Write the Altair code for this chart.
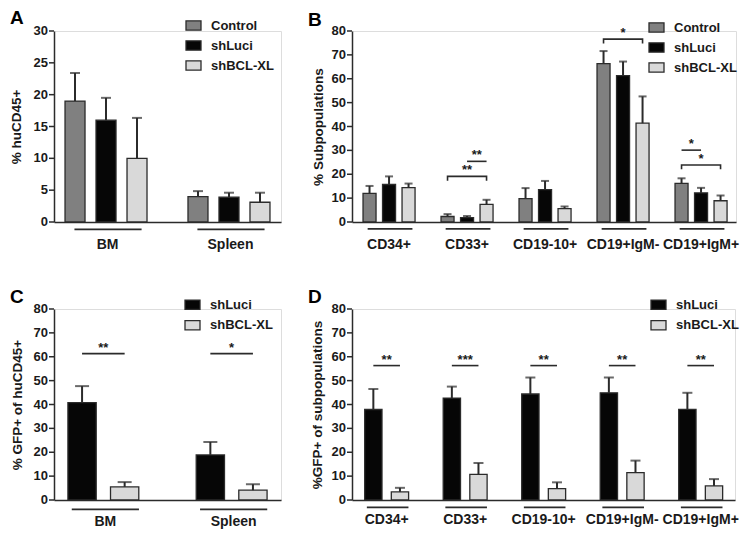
import altair as alt
import pandas as pd

FONT = "Liberation Sans"
DARK = "#2b2b2b"
TXT = "#1a1a1a"
SWATCH = "M-1,-0.62H1V0.62H-1Z"

series3 = ["Control", "shLuci", "shBCL-XL"]
series2 = ["shLuci", "shBCL-XL"]
fill3 = ["#808080", "#060606", "#d9d9d9"]
fill2 = ["#060606", "#d9d9d9"]

# y tick labels
a_yticks = [0, 5, 10, 15, 20, 25, 30]
bcd_yticks = [0, 10, 20, 30, 40, 50, 60, 70, 80]

# ---------------- Panel A : % huCD45+ ----------------
a_groups = ["BM", "Spleen"]
a_control = [19.0, 4.0]
a_control_up = [23.4, 4.85]
a_shluci = [16.0, 3.9]
a_shluci_up = [19.5, 4.6]
a_shbcl = [10.0, 3.1]
a_shbcl_up = [16.35, 4.6]

# ---------------- Panel B : % Subpopulations ----------------
b_groups = ["CD34+", "CD33+", "CD19-10+", "CD19+IgM-", "CD19+IgM+"]
b_control = [12.0, 2.3, 9.8, 66.3, 16.2]
b_control_up = [15.1, 3.3, 14.2, 71.6, 18.3]
b_shluci = [15.7, 1.8, 13.6, 61.3, 12.2]
b_shluci_up = [19.1, 2.5, 17.2, 67.2, 14.3]
b_shbcl = [14.4, 7.4, 5.6, 41.4, 8.9]
b_shbcl_up = [16.1, 9.3, 6.5, 52.6, 11.1]
b_sig_group = ["CD33+", "CD33+", "CD19+IgM-", "CD19+IgM+", "CD19+IgM+"]
b_sig_from = ["Control", "shLuci", "Control", "Control", "Control"]
b_sig_to = ["shBCL-XL", "shBCL-XL", "shBCL-XL", "shLuci", "shBCL-XL"]
b_sig_level = [19.1, 25.4, 76.6, 30.1, 23.9]
b_sig_end = [17.3, 25.4, 74.8, 30.1, 22.1]
b_sig_stars = ["**", "**", "*", "*", "*"]
b_sig_shift = [0, 1, 0, -1, 0]

# ---------------- Panel C : % GFP+ of huCD45+ ----------------
c_groups = ["BM", "Spleen"]
c_shluci = [40.8, 18.9]
c_shluci_up = [47.7, 24.3]
c_shbcl = [5.5, 4.1]
c_shbcl_up = [7.5, 6.6]
c_sig_group = ["BM", "Spleen"]
c_sig_from = ["shLuci", "shLuci"]
c_sig_to = ["shBCL-XL", "shBCL-XL"]
c_sig_level = [61.3, 61.3]
c_sig_end = [61.3, 61.3]
c_sig_stars = ["**", "*"]
c_sig_shift = [0, 0]

# ---------------- Panel D : %GFP+ of subpopulations ----------------
d_groups = ["CD34+", "CD33+", "CD19-10+", "CD19+IgM-", "CD19+IgM+"]
d_shluci = [37.9, 42.7, 44.4, 44.9, 38.0]
d_shluci_up = [46.5, 47.5, 51.3, 51.3, 44.9]
d_shbcl = [3.4, 10.7, 4.8, 11.5, 5.9]
d_shbcl_up = [5.1, 15.5, 7.4, 16.5, 8.75]
d_sig_group = d_groups
d_sig_from = ["shLuci"] * 5
d_sig_to = ["shBCL-XL"] * 5
d_sig_level = [56.3, 56.3, 56.3, 56.3, 56.3]
d_sig_end = [56.3, 56.3, 56.3, 56.3, 56.3]
d_sig_stars = ["**", "***", "**", "**", "**"]
d_sig_shift = [0, 0, 0, 0, 0]


def bars_df(groups, series, vals, ups):
    rows = []
    for s, v, u in zip(series, vals, ups):
        for g, vv, uu in zip(groups, v, u):
            rows.append({"group": g, "series": s, "value": vv, "upper": uu})
    return pd.DataFrame(rows)


def sig_df(grp, frm, to, level, end, stars, shift):
    lines, texts = [], []
    for i, (g, f, t, lv, e, st, sh) in enumerate(zip(grp, frm, to, level, end, stars, shift)):
        pts = [(f, e), (f, lv), (t, lv), (t, e)]
        for k, (s, y) in enumerate(pts):
            lines.append({"id": i, "ord": k, "group": g, "series": s, "y": y})
        texts.append({"group": g, "level": lv, "stars": st, "shift": sh})
    return pd.DataFrame(lines), pd.DataFrame(texts)


def panel(letter, groups, series, fills, df, sig, yticks, *, width, height, ytitle,
          title_x, pin, pout, align, opin, opout, lx, ly, lrow, loff,
          cap, lab_pad, lab_off, ul_y, ul_band, ul_off, star_dx):
    ymax = yticks[-1]
    xenc = alt.X("group:N", sort=groups,
                 scale=alt.Scale(paddingInner=pin, paddingOuter=pout, align=align),
                 axis=alt.Axis(title=None, labelAngle=0, ticks=False, tickSize=0,
                               domain=True, domainColor=DARK, domainWidth=1.5,
                               labelPadding=lab_pad, labelOffset=lab_off,
                               labelFontSize=14, labelFontWeight="bold",
                               labelColor=TXT, labelFont=FONT))
    xoff = alt.XOffset("series:N", sort=series,
                       scale=alt.Scale(domain=series, paddingInner=opin, paddingOuter=opout))
    yscale = alt.Scale(domain=[0, ymax], nice=False, zero=True)
    yaxis = alt.Axis(title=ytitle, labels=False, ticks=False, grid=False,
                     domainColor=DARK, domainWidth=1.5,
                     titleFont=FONT, titleFontSize=13.5, titleFontWeight="bold",
                     titleColor=TXT, titleX=title_x, titleY=height / 2,
                     titleAngle=-90, titleAlign="center", titleBaseline="middle")

    def Y(field):
        return alt.Y(field, scale=yscale, axis=yaxis)

    base = alt.Chart(df)
    underline = alt.Chart(pd.DataFrame({"group": groups})).mark_bar(
        color=DARK, width=alt.RelativeBandSize(ul_band), xOffset=ul_off
    ).encode(x=xenc, y=alt.value(height + ul_y), y2=alt.value(height + ul_y + 1.7))
    bars = base.mark_bar(stroke=DARK, strokeWidth=1.3).encode(
        x=xenc, xOffset=xoff,
        y=Y("value:Q"),
        fill=alt.Fill("series:N", sort=series,
                      scale=alt.Scale(domain=series, range=fills),
                      legend=alt.Legend(title=None, orient="none", legendX=lx, legendY=ly,
                                        symbolType=SWATCH, symbolSize=225,
                                        symbolStrokeColor=DARK, symbolStrokeWidth=1.3,
                                        labelFont=FONT, labelFontSize=13,
                                        labelFontWeight="bold", labelColor=TXT,
                                        labelOffset=loff, rowPadding=lrow, padding=0,
                                        symbolOffset=0)),
    )
    err = base.mark_rule(color=DARK, strokeWidth=2).encode(
        x=xenc, xOffset=xoff, y=Y("value:Q"), y2="upper:Q")
    caps = base.mark_tick(color=DARK, thickness=2, size=cap, orient="horizontal").encode(
        x=xenc, xOffset=xoff, y=Y("upper:Q"))
    tdata = alt.Chart(pd.DataFrame({"v": yticks}))
    yt_rules = tdata.mark_rule(color=DARK, strokeWidth=1.5).encode(
        y=Y("v:Q"), x=alt.value(-5), x2=alt.value(0))
    yt_labels = tdata.mark_text(align="right", baseline="middle", font=FONT, fontSize=13,
                                fontWeight="bold", color=TXT).encode(
        y=Y("v:Q"), x=alt.value(-6), text="v:Q")
    layers = [underline, bars, err, caps, yt_rules, yt_labels]
    if sig is not None:
        ldf, tdf = sig
        lines = alt.Chart(ldf).mark_line(color=DARK, strokeWidth=1.6).encode(
            x=xenc, xOffset=xoff, y=Y("y:Q"),
            detail="id:N", order="ord:Q")
        layers.append(lines)
        for sh in sorted(set(tdf["shift"])):
            layers.append(
                alt.Chart(tdf[tdf["shift"] == sh]).mark_text(
                    font=FONT, fontSize=13, fontWeight="bold", color=TXT,
                    baseline="alphabetic", dy=-2, dx=sh * star_dx
                ).encode(x=xenc, y=Y("level:Q"), text="stars:N"))
    return alt.layer(*layers).properties(
        width=width, height=height,
        title=alt.Title(letter, anchor="start", frame="group", fontSize=19,
                        font=FONT, fontWeight="bold", color="#000", dx=-44, dy=12.5,
                        offset=2))


pA = panel("A", a_groups, series3, fill3,
           bars_df(a_groups, series3, [a_control, a_shluci, a_shbcl],
                   [a_control_up, a_shluci_up, a_shbcl_up]), None, a_yticks,
           width=227, height=191, ytitle="% huCD45+", title_x=-38,
           pin=0.3, pout=0.073, align=0.5, opin=0.355, opout=0.066,
           lx=131, ly=-14, lrow=4, loff=9, cap=10, lab_pad=15, lab_off=1.5,
           ul_y=6.5, ul_band=0.78, ul_off=2, star_dx=0)

pB = panel("B", b_groups, series3, fill3,
           bars_df(b_groups, series3, [b_control, b_shluci, b_shbcl],
                   [b_control_up, b_shluci_up, b_shbcl_up]),
           sig_df(b_sig_group, b_sig_from, b_sig_to, b_sig_level, b_sig_end,
                  b_sig_stars, b_sig_shift), bcd_yticks,
           width=384, height=191, ytitle="% Subpopulations", title_x=-34,
           pin=0.3, pout=0.1115, align=0.56, opin=0.333, opout=0.066,
           lx=296, ly=-12, lrow=4, loff=9, cap=8, lab_pad=15, lab_off=0,
           ul_y=6, ul_band=0.82, ul_off=1, star_dx=9.75)

pC = panel("C", c_groups, series2, fill2,
           bars_df(c_groups, series2, [c_shluci, c_shbcl], [c_shluci_up, c_shbcl_up]),
           sig_df(c_sig_group, c_sig_from, c_sig_to, c_sig_level, c_sig_end,
                  c_sig_stars, c_sig_shift), bcd_yticks,
           width=227, height=191, ytitle="% GFP+ of huCD45+", title_x=-37,
           pin=0.3765, pout=0.073, align=0.5, opin=0.336, opout=0.107,
           lx=130, ly=-12.8, lrow=4.5, loff=9, cap=14, lab_pad=14, lab_off=2,
           ul_y=8.5, ul_band=0.84, ul_off=2, star_dx=0)

pD = panel("D", d_groups, series2, fill2,
           bars_df(d_groups, series2, [d_shluci, d_shbcl], [d_shluci_up, d_shbcl_up]),
           sig_df(d_sig_group, d_sig_from, d_sig_to, d_sig_level, d_sig_end,
                  d_sig_stars, d_sig_shift), bcd_yticks,
           width=383, height=191, ytitle="%GFP+ of subpopulations", title_x=-35,
           pin=0.3376, pout=0.108, align=0.51, opin=0.35, opout=0.152,
           lx=298, ly=-12.8, lrow=4.5, loff=9, cap=10, lab_pad=12, lab_off=0,
           ul_y=6.5, ul_band=0.8, ul_off=1, star_dx=0)

chart = alt.concat(
    pA, pB, pC, pD, columns=2, bounds="flush",
    spacing={"row": 87, "column": 71}, padding=0,
).resolve_scale(
    fill="independent", xOffset="independent", x="independent", y="independent"
).resolve_legend(fill="independent").configure_view(stroke=None).configure(
    font=FONT, background="white")

chart.save("out.html", embed_options={"renderer": "svg", "actions": False})
